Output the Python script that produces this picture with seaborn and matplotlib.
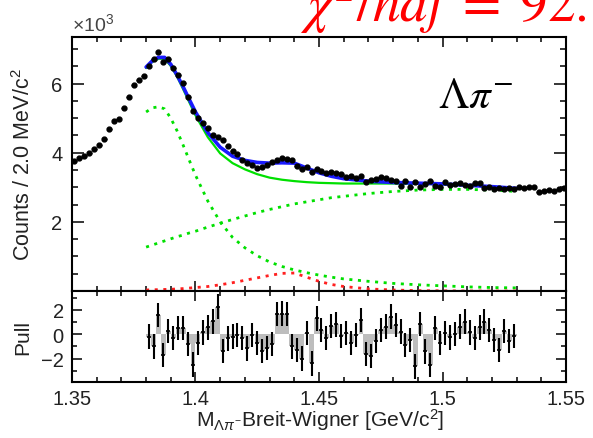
import numpy as np
import pandas as pd
import seaborn as sns
import matplotlib
matplotlib.use("Agg")
import matplotlib.pyplot as plt
from matplotlib.ticker import MultipleLocator

# ---------------- data ----------------
mass_lo, mass_hi, bin_width = 1.35, 1.55, 0.002
# counts per 2 MeV/c^2 bin, in units of 10^3 (100 bins, 1.35 - 1.55)
counts_k = [3.77, 3.85, 3.92, 3.98, 4.12, 4.22, 4.40, 4.68, 4.92, 4.98,
            5.30, 5.60, 5.95, 6.12, 6.22, 6.52, 6.70, 6.93, 6.62, 6.70,
            6.45, 6.26, 6.03, 5.62, 5.22, 5.02, 4.85, 4.72, 4.52, 4.45,
            4.36, 4.20, 4.05, 3.95, 3.80, 3.71, 3.65, 3.57, 3.60, 3.66,
            3.72, 3.80, 3.85, 3.82, 3.78, 3.62, 3.52, 3.58, 3.45, 3.52,
            3.46, 3.42, 3.45, 3.42, 3.38, 3.30, 3.33, 3.28, 3.32, 3.16,
            3.22, 3.25, 3.30, 3.28, 3.22, 3.18, 3.05, 3.17, 3.02, 3.16,
            3.02, 3.10, 3.18, 3.05, 3.00, 3.14, 3.06, 3.10, 3.12, 3.08,
            3.04, 3.12, 3.13, 2.98, 3.02, 2.95, 2.97, 2.94, 2.98, 2.96,
            3.01, 2.99, 3.02, 3.00, 2.86, 2.90, 2.92, 2.90, 2.95, 2.97]

# fit curves sampled at these masses (GeV/c^2), values in 10^3
curve_mass = [1.380, 1.3825, 1.385, 1.3875, 1.390, 1.3925, 1.395, 1.3975,
              1.400, 1.405, 1.410, 1.415, 1.420, 1.425, 1.430, 1.435,
              1.440, 1.445, 1.450, 1.455, 1.460, 1.470, 1.480, 1.490,
              1.500, 1.510, 1.520, 1.530]
total_fit = [6.48, 6.66, 6.76, 6.76, 6.56, 6.25, 5.91, 5.54,
             5.18, 4.58, 4.16, 3.90, 3.78, 3.72, 3.70, 3.71,
             3.70, 3.56, 3.42, 3.32, 3.25, 3.18, 3.14, 3.12,
             3.10, 3.06, 3.02, 2.97]
sig_plus_bkg = [6.45, 6.63, 6.72, 6.72, 6.51, 6.21, 5.84, 5.46,
                5.08, 4.45, 3.98, 3.70, 3.52, 3.38, 3.28, 3.22,
                3.18, 3.15, 3.13, 3.12, 3.11, 3.11, 3.11, 3.10,
                3.09, 3.06, 3.02, 2.97]
signal_bw = [5.18, 5.30, 5.33, 5.27, 5.00, 4.64, 4.22, 3.78,
             3.35, 2.60, 2.00, 1.55, 1.25, 1.02, 0.84, 0.71,
             0.61, 0.53, 0.46, 0.40, 0.35, 0.28, 0.22, 0.18,
             0.15, 0.12, 0.10, 0.09]
background = [1.27, 1.33, 1.39, 1.45, 1.51, 1.57, 1.62, 1.68,
              1.73, 1.85, 1.96, 2.07, 2.17, 2.27, 2.36, 2.44,
              2.52, 2.58, 2.64, 2.70, 2.74, 2.82, 2.88, 2.92,
              2.94, 2.94, 2.92, 2.88]
bump_red = [0.03, 0.035, 0.04, 0.045, 0.05, 0.06, 0.07, 0.085,
            0.10, 0.13, 0.18, 0.24, 0.31, 0.38, 0.45, 0.51,
            0.52, 0.40, 0.28, 0.19, 0.13, 0.06, 0.03, 0.01,
            0.005, 0.0, 0.0, 0.0]

# pulls for the 75 fitted bins (1.38 - 1.53)
fit_lo = 1.38
pulls = [-0.2, -1.0, 1.55, -1.7, 0.27, -0.33, 0.5, 0.5, -0.8, -2.5,
         -0.7, 0.15, 0.55, 1.05, 2.27, -1.37, -0.35, -0.2, -0.05, -0.33,
         -1.17, -0.05, -0.75, -1.4, -1.15, -0.8, 1.65, 1.7, 1.65, -1.0,
         -1.3, -2.0, 0.08, -2.4, 1.3, 0.35, -0.33, 0.7, 0.8, -0.15,
         0.08, -0.7, -0.05, 1.17, -1.65, -1.8, -0.55, 0.35, 0.63, 1.45,
         0.77, 0.22, -0.88, -0.47, -2.65, 0.82, -1.42, -2.55, 0.5, -0.7,
         0.08, -0.27, 0.0, 0.63, 1.04, 0.14, -0.3, 0.55, 1.04, 0.35,
         -0.47, -1.3, 0.27, -0.55, -0.14]

x_ticks = [1.35, 1.40, 1.45, 1.50, 1.55]
x_tick_labels = ["1.35", "1.4", "1.45", "1.5", "1.55"]

# ---------------- tables ----------------
data_centers = mass_lo + bin_width * (np.arange(len(counts_k)) + 0.5)
df_data = pd.DataFrame({"mass": data_centers, "counts": counts_k})
df_curves = pd.DataFrame({"mass": curve_mass, "total": total_fit,
                          "sigbkg": sig_plus_bkg, "signal": signal_bw,
                          "bkg": background, "bump": bump_red})
pull_centers = fit_lo + bin_width * (np.arange(len(pulls)) + 0.5)
df_pull = pd.DataFrame({"mass": pull_centers, "pull": pulls})

# ---------------- style ----------------
sns.set_theme(style="ticks")
plt.rcParams["font.family"] = ["Liberation Sans", "DejaVu Sans"]
plt.rcParams["mathtext.fontset"] = "custom"
plt.rcParams["mathtext.rm"] = "Liberation Sans"
plt.rcParams["mathtext.it"] = "Liberation Sans:italic"
plt.rcParams["mathtext.bf"] = "Liberation Sans:bold"
text_col = "#222222"

W, H = 593, 439
fig = plt.figure(figsize=(W / 100, H / 100), dpi=100)
left, right = 72 / W, 566 / W
ax = fig.add_axes([left, 1 - 292 / H, right - left, (292 - 38) / H])
axp = fig.add_axes([left, 1 - 383 / H, right - left, (383 - 292) / H], sharex=ax)

green = "#00e000"
dot = (0, (1.1, 2.0))

# curves
sns.lineplot(data=df_curves, x="mass", y="bkg", ax=ax, color=green, lw=2.0,
             linestyle=dot, dash_capstyle="butt")
sns.lineplot(data=df_curves, x="mass", y="signal", ax=ax, color=green, lw=2.0,
             linestyle=dot, dash_capstyle="butt")
sns.lineplot(data=df_curves, x="mass", y="bump", ax=ax, color="#ff2020", lw=2.0,
             linestyle=dot, dash_capstyle="butt")
sns.lineplot(data=df_curves, x="mass", y="sigbkg", ax=ax, color=green, lw=1.6)
sns.lineplot(data=df_curves, x="mass", y="total", ax=ax, color="#1a1aff", lw=2.6)

# data points
ax.errorbar(df_data["mass"], df_data["counts"], xerr=bin_width / 2, fmt="o",
            ms=3.5, color="black", elinewidth=0.9, capsize=0, zorder=5)

# pull panel
axp.bar(df_pull["mass"], df_pull["pull"], width=bin_width, color="#bdbdbd",
        edgecolor="none", zorder=1)
axp.errorbar(df_pull["mass"], df_pull["pull"], yerr=1.0, fmt="_", ms=3,
             mew=1.2, color="black", elinewidth=1.5, capsize=0, zorder=3)

# ---------------- axes cosmetics ----------------
ax.set_xlim(mass_lo, mass_hi)
ax.set_ylim(0, 7.35)
axp.set_ylim(-3.93, 3.55)

for a in (ax, axp):
    for s in a.spines.values():
        s.set_linewidth(1.5)
        s.set_color("black")
        s.set_visible(True)
    a.set_xlabel("")
    a.set_ylabel("")
    a.xaxis.set_minor_locator(MultipleLocator(0.01))
    a.tick_params(which="both", direction="in", top=True, right=True,
                  width=1.1, color="black", labelsize=14.5, labelcolor=text_col)
    a.tick_params(axis="x", which="major", length=7)
    a.tick_params(axis="x", which="minor", length=3.6)

ax.set_yticks([2, 4, 6])
ax.set_yticklabels(["2", "4", "6"])
ax.yaxis.set_minor_locator(MultipleLocator(0.5))
ax.tick_params(axis="y", which="major", length=8.5, pad=7)
ax.tick_params(axis="y", which="minor", length=4.3)
ax.tick_params(axis="x", labelbottom=False)

axp.set_yticks([-2, 0, 2])
axp.set_yticklabels(["\u22122", "0", "2"])
axp.yaxis.set_minor_locator(MultipleLocator(1))
axp.tick_params(axis="y", which="major", length=7, pad=6)
axp.tick_params(axis="y", which="minor", length=3.6)
axp.set_xticks(x_ticks)
axp.set_xticklabels(x_tick_labels)
axp.tick_params(axis="x", pad=5)

# labels
ax.set_ylabel("Counts / 2.0 MeV/c$^{2}$", fontsize=15.5, color=text_col)
ax.yaxis.set_label_coords(-0.099, 0.5)
ax.yaxis.label.set_va("center")
axp.set_ylabel("Pull", fontsize=15, color=text_col)
axp.yaxis.set_label_coords(-0.099, 0.5)
axp.yaxis.label.set_va("center")
axp.set_xlabel(r"M$_{\Lambda\pi^{-}}$Breit-Wigner [GeV/c$^{2}$]",
               fontsize=15.2, color=text_col)
axp.xaxis.set_label_coords(0.502, -0.27)

fig.text(72 / W, 1 - 31 / H, r"$\times$10$^{3}$", fontsize=14, color="#444444",
         ha="left", va="baseline")

ax.text(0.741, 0.724, r"$\Lambda\pi^{-}$", transform=ax.transAxes,
        fontsize=31, color="black", ha="left", va="baseline",
        math_fontfamily="stix")

fig.text(300 / W, 1 - 22 / H, r"$\chi^2/ndf\;=\;92.$", fontsize=40,
         color="red", ha="left", va="baseline", math_fontfamily="stix")

fig.savefig("out.png", dpi=100)
